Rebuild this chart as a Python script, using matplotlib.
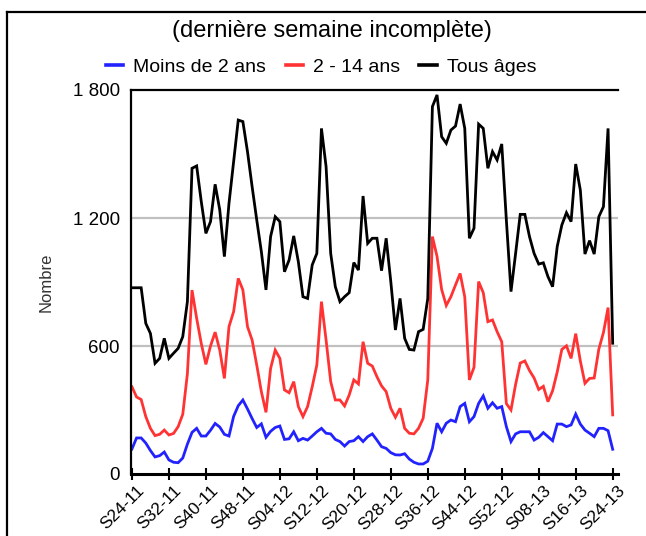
import matplotlib
matplotlib.use("Agg")
import matplotlib.pyplot as plt
from matplotlib.lines import Line2D
import matplotlib.transforms as mtransforms

plt.rcParams['font.family'] = ['Liberation Sans', 'DejaVu Sans']

tick_labels = ["S24-11", "S32-11", "S40-11", "S48-11", "S04-12", "S12-12", "S20-12",
               "S28-12", "S36-12", "S44-12", "S52-12", "S08-13", "S16-13", "S24-13"]

moins_2_ans = [117, 169, 169, 145, 110, 80, 86, 103, 66, 55, 53, 75, 140, 195, 214, 178, 178,
               205, 237, 220, 186, 178, 270, 320, 347, 305, 260, 218, 235, 172, 200, 218, 225,
               162, 165, 198, 156, 167, 159, 178, 198, 214, 191, 188, 162, 152, 131, 152, 156,
               175, 152, 175, 188, 159, 128, 120, 100, 90, 89, 95, 70, 55, 47, 47, 60, 120,
               238, 198, 238, 253, 245, 316, 331, 245, 269, 331, 366, 308, 334, 308, 316, 222,
               152, 188, 198, 198, 198, 159, 172, 194, 175, 156, 234, 234, 222, 230, 281, 234,
               206, 191, 175, 214, 214, 203, 116]

de_2_a_14_ans = [409, 361, 349, 269, 214, 180, 186, 206, 183, 190, 222, 280, 470, 862, 730, 612,
                 514, 600, 665, 581, 448, 691, 761, 917, 863, 691, 628, 511, 386, 289, 495, 581,
                 542, 394, 381, 433, 316, 269, 316, 409, 511, 808, 628, 433, 347, 347, 319, 370,
                 441, 422, 620, 519, 506, 456, 413, 386, 308, 266, 308, 214, 191, 188, 214, 261,
                 441, 1113, 1020, 865, 790, 831, 886, 940, 830, 441, 500, 902, 850, 714, 722, 667,
                 620, 330, 300, 420, 520, 530, 485, 450, 396, 411, 339, 390, 478, 584, 601, 542,
                 658, 530, 425, 448, 450, 585, 663, 780, 277]

tous_ages = [873, 873, 873, 706, 659, 519, 542, 636, 542, 566, 589, 644, 808, 1433, 1444, 1277,
             1128, 1183, 1358, 1238, 1019, 1269, 1464, 1659, 1652, 1511, 1347, 1191, 1042, 863,
             1113, 1206, 1183, 948, 1003, 1116, 995, 831, 823, 980, 1034, 1620, 1441, 1034, 878,
             808, 831, 850, 991, 956, 1303, 1081, 1105, 1105, 953, 1105, 902, 675, 823, 636, 584,
             581, 667, 678, 823, 1722, 1777, 1581, 1550, 1612, 1631, 1734, 1620, 1105, 1152, 1640,
             1620, 1433, 1511, 1472, 1547, 1190, 855, 1034, 1217, 1217, 1113, 1034, 984, 990, 925,
             878, 1066, 1167, 1225, 1183, 1453, 1331, 1031, 1094, 1031, 1206, 1253, 1620, 613]

W, H = 646, 536
fig = plt.figure(figsize=(W / 100, H / 100), dpi=100)
ax = fig.add_axes([131 / W, 1 - 474 / H, 487 / W, 384 / H])

x = list(range(len(tous_ages)))
lw = 2.0
l1, = ax.plot(x, moins_2_ans, color='#2222ff', lw=lw, label='Moins de 2 ans', solid_joinstyle='miter')
l2, = ax.plot(x, de_2_a_14_ans, color='#ff3333', lw=lw, label='2 - 14 ans', solid_joinstyle='miter')
l3, = ax.plot(x, tous_ages, color='#000000', lw=lw, label='Tous âges', solid_joinstyle='miter')

ax.set_xlim(-0.2, 105.15)
ax.set_ylim(0, 1800)
ax.set_yticks([0, 600, 1200, 1800])
ax.set_yticklabels(['0', '600', '1 200', '1 800'])
for yv in [600, 1200]:
    ax.axhline(yv, color='#c0c0c0', lw=1.6, zorder=0)
ax.axhline(1800, color='black', lw=1.6, zorder=0, clip_on=False)

ax.set_xticks(range(0, len(tous_ages), 8))
ax.set_xticklabels(tick_labels, rotation=45, ha='right', va='top', rotation_mode='anchor')
ax.tick_params(axis='x', direction='inout', length=9, width=1.5, labelsize=12.5, pad=2)
ax.tick_params(axis='y', length=0, labelsize=13.5, pad=8)
shift = mtransforms.ScaledTranslation(5 / 100, 0, fig.dpi_scale_trans)
for lab in ax.get_xticklabels():
    lab.set_transform(lab.get_transform() + shift)

for s in ['top', 'right']:
    ax.spines[s].set_visible(False)
ax.spines['left'].set_linewidth(1.6)
ax.spines['bottom'].set_linewidth(2.2)

ax.set_ylabel('Nombre', fontsize=12, color='#333333', labelpad=14)

fig.text(332 / W, 1 - 31 / H, '(dernière semaine incomplète)', ha='center', va='center', fontsize=17)
leg = fig.legend(handles=[l1, l2, l3], loc='center', bbox_to_anchor=(321 / W, 1 - 67 / H), ncol=3,
                 frameon=False, fontsize=14, handlelength=0.9, handletextpad=0.5, columnspacing=1.0)
for h in leg.get_lines():
    h.set_linewidth(2.6)

fig.add_artist(Line2D([7 / W, 1], [1 - 12 / H, 1 - 12 / H], color='black', lw=1.6, transform=fig.transFigure))
fig.add_artist(Line2D([7 / W, 7 / W], [0, 1 - 12 / H], color='black', lw=1.6, transform=fig.transFigure))

fig.savefig('out.png', dpi=100)
